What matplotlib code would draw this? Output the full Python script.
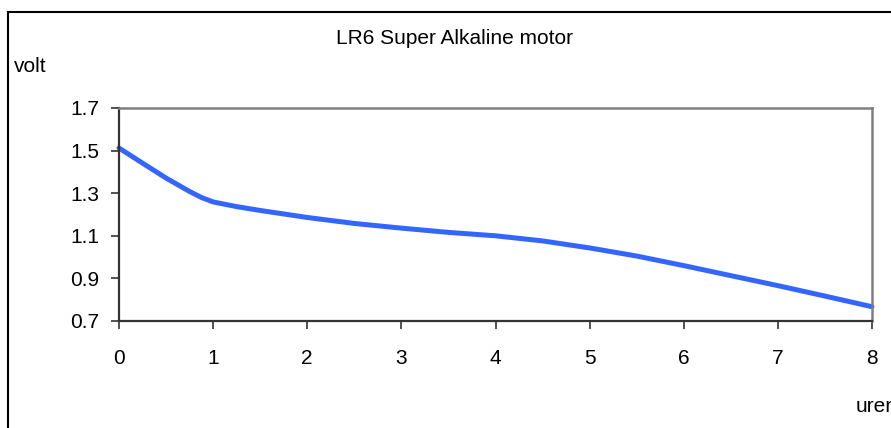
import matplotlib
matplotlib.use("Agg")
import matplotlib.pyplot as plt
from matplotlib.patches import Rectangle

# discharge readings (hours, volts)
uren = [0, 0.25, 0.5, 0.75, 0.875, 1, 1.25, 1.5, 2, 2.5, 3, 3.5, 4, 4.5, 5, 5.5, 6, 6.5, 7, 7.5, 8]
volt = [1.512, 1.441, 1.371, 1.308, 1.280, 1.259, 1.237, 1.219, 1.186, 1.158, 1.136, 1.116,
        1.100, 1.076, 1.043, 1.005, 0.960, 0.913, 0.866, 0.817, 0.767]
x_ticks = [0, 1, 2, 3, 4, 5, 6, 7, 8]
y_ticks = [0.7, 0.9, 1.1, 1.3, 1.5, 1.7]
y_labels = ['0.7', '0.9', '1.1', '1.3', '1.5', '1.7']

plt.rcParams['font.family'] = ['Liberation Sans', 'DejaVu Sans']
plt.rcParams['font.size'] = 15

fig = plt.figure(figsize=(8.91, 4.28), dpi=100)
ax = fig.add_axes([119 / 891, 1 - 321 / 428, 753 / 891, 213 / 428])

ax.plot(uren, volt, color='#3366ff', lw=3.6, solid_capstyle='round',
        solid_joinstyle='round', clip_on=False)

ax.set_xlim(0, 8)
ax.set_ylim(0.7, 1.7)
ax.set_xticks(x_ticks)
ax.set_yticks(y_ticks)
ax.set_yticklabels(y_labels)

for s in ['top', 'right']:
    ax.spines[s].set_color('#808080')
    ax.spines[s].set_linewidth(1.8)
for s in ['left', 'bottom']:
    ax.spines[s].set_color('#333333')
    ax.spines[s].set_linewidth(1.6)

ax.tick_params(axis='y', direction='out', length=6, width=1.2, color='#333333', pad=8)
ax.tick_params(axis='x', direction='out', length=6, width=1.2, color='#333333', pad=14)

fig.text(454 / 891, 1 - 38 / 428, 'LR6 Super Alkaline motor', ha='center', va='center')
fig.text(14 / 891, 1 - 67 / 428, 'volt', ha='left', va='center')
fig.text(856 / 891, 1 - 407 / 428, 'uren', ha='left', va='center')

# outer chart frame, running off the right and bottom edges
fig.patches.append(Rectangle((8 / 891, -0.1), 1.0, 1.1 - 12 / 428, transform=fig.transFigure,
                             fill=False, edgecolor='black', lw=1.5, clip_on=False))

fig.savefig('out.png', dpi=100)
